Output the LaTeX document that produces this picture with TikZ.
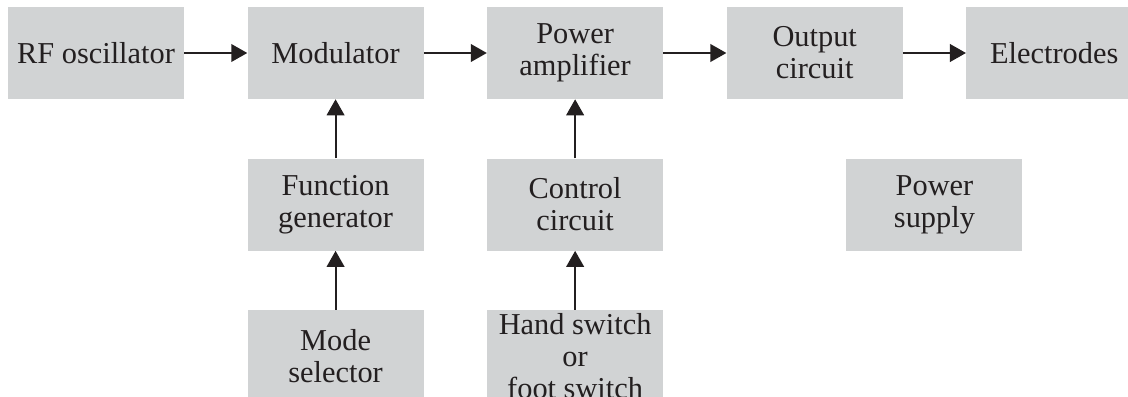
\documentclass[tikz,border=0pt]{standalone}
\usepackage{fontspec}
\setmainfont{Liberation Serif}
\usepackage{xcolor}
\usepackage{tikz}
\usetikzlibrary{positioning, arrows.meta, calc}
\definecolor{boxgray}{HTML}{D1D3D4}
\definecolor{inkblack}{HTML}{231F20}

\tikzset{
  blk/.style={fill=boxgray, text=inkblack, align=center,
              minimum width=44mm, minimum height=23mm, inner sep=0pt,
              font=\fontsize{21.6}{22.8}\selectfont},
  arr/.style={draw=inkblack, line width=0.5mm,
              -{Triangle[length=4mm, width=4.4mm]}}
}

\begin{document}
\begin{tikzpicture}[node distance=14.75mm and 15.75mm]
    \useasboundingbox (0,0) rectangle (282mm,99mm);
    \clip (0,0) rectangle (282mm,99mm);
    % top row
    \node[blk] (rfosc) at (24mm,85.75mm) {RF oscillator};
    \node[blk, right=of rfosc] (modul) {Modulator};
    \node[blk, right=of modul] (pwramp) {Power\\amplifier};
    \node[blk, right=of pwramp] (outc) {Output\\circuit};
    \node[blk, right=of outc] (elec) {Electrodes};
    % lower rows
    \node[blk, below=of modul] (fgen) {Function\\generator};
    \node[blk, below=of fgen] (modesel) {Mode\\selector};
    \node[blk, below=of pwramp] (ctrl) {Control\\circuit};
    \node[blk, below=of ctrl] (hsw) {Hand switch\\or\\foot switch};
    \coordinate (mid) at ($(outc.south east)!0.5!(elec.south west)$);
    \node[blk, below=of mid] (psup) {Power\\supply};
    % connectors
    \draw[arr] (rfosc) -- (modul);
    \draw[arr] (modul) -- (pwramp);
    \draw[arr] (pwramp) -- (outc);
    \draw[arr] (outc) -- (elec);
    \draw[arr] (fgen) -- (modul);
    \draw[arr] (modesel) -- (fgen);
    \draw[arr] (ctrl) -- (pwramp);
    \draw[arr] (hsw) -- (ctrl);
\end{tikzpicture}
\end{document}
